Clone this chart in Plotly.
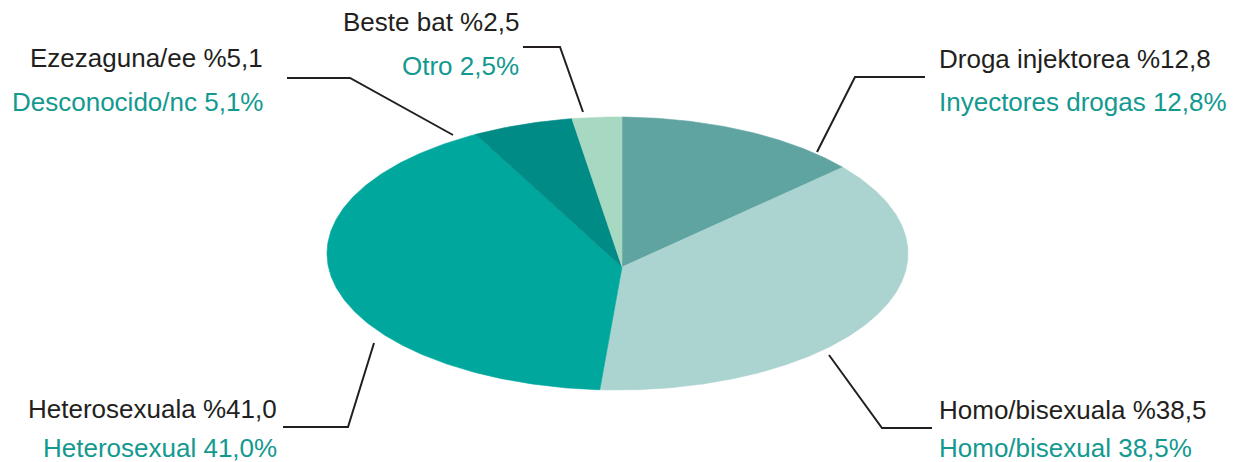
import numpy as np
import plotly.graph_objects as go

# ---- data (clockwise from 12 o'clock) ----
labels_eu = ["Droga injektorea %12,8", "Homo/bisexuala %38,5", "Heterosexuala %41,0",
             "Ezezaguna/ee %5,1", "Beste bat %2,5"]
labels_es = ["Inyectores drogas 12,8%", "Homo/bisexual 38,5%", "Heterosexual 41,0%",
             "Desconocido/nc 5,1%", "Otro 2,5%"]
values = [12.8, 38.5, 41.0, 5.1, 2.5]
colors = ["#5fa4a0", "#abd4d0", "#00a79d", "#008b86", "#a7d8c1"]

# ---- geometry (pixel space) ----
W, H = 1234, 462
CX, CY, RX, RY = 617.5, 253.5, 290.5, 136.5   # ellipse
AX, AY = 622.0, 267.0                           # apex of the slices

def rim_point(theta):
    px, py = (AX - CX) / RX, (AY - CY) / RY
    dx, dy = np.sin(theta), -np.cos(theta)
    b = px * dx + py * dy
    c = px * px + py * py - 1
    t = -b + np.sqrt(b * b - c)
    return CX + (px + t * dx) * RX, CY + (py + t * dy) * RY

fig = go.Figure()
total = sum(values)
start = 0.0
for v, col, name in zip(values, colors, labels_es):
    end = start + v / total * 2 * np.pi
    th = np.linspace(start, end, max(int(v * 6), 20))
    xs, ys = [AX], [AY]
    for t in th:
        x, y = rim_point(t)
        xs.append(x); ys.append(y)
    xs.append(AX); ys.append(AY)
    fig.add_trace(go.Scatter(x=xs, y=ys, mode="lines", fill="toself",
                             fillcolor=col, line=dict(color=col, width=0.6),
                             hoverinfo="text", text=name, showlegend=False))
    start = end

# ---- leader lines ----
leaders = [
    [(925, 77), (855, 77), (817, 152)],
    [(932, 428), (882, 428), (829, 355)],
    [(283, 427), (348, 427), (374, 343)],
    [(287, 78), (350, 78), (453, 135)],
    [(523, 47), (560, 47), (583, 112)],
]
for pts in leaders:
    fig.add_trace(go.Scatter(x=[p[0] for p in pts], y=[p[1] for p in pts],
                             mode="lines", line=dict(color="#231f20", width=2),
                             hoverinfo="skip", showlegend=False))

# ---- labels ----
FONT = "Liberation Sans, Arial, sans-serif"
lab_pos = [  # (x, y_black, y_teal, anchor)
    (937, 59, 102, "left"),
    (937, 410, 448, "left"),
    (279, 409, 448, "right"),
    (265, 58, 102, "right"),
    (521, 22, 66, "right"),
]
for (x, yb, yt, anc), eu, es in zip(lab_pos, labels_eu, labels_es):
    fig.add_annotation(x=x, y=yb, text=eu, showarrow=False, xanchor=anc, yanchor="middle",
                       font=dict(family=FONT, size=26, color="#231f20"))
    fig.add_annotation(x=x, y=yt, text=es, showarrow=False, xanchor=anc, yanchor="middle",
                       font=dict(family=FONT, size=26, color="#13998f"))

fig.update_layout(
    width=W, height=H, margin=dict(l=0, r=0, t=0, b=0),
    paper_bgcolor="white", plot_bgcolor="white",
    xaxis=dict(range=[0, W], visible=False, fixedrange=True),
    yaxis=dict(range=[H, 0], visible=False, fixedrange=True),
)
fig.write_html("out.html", config={"displayModeBar": False},
               post_script="document.body.style.margin='0';document.body.style.overflow='hidden';")
